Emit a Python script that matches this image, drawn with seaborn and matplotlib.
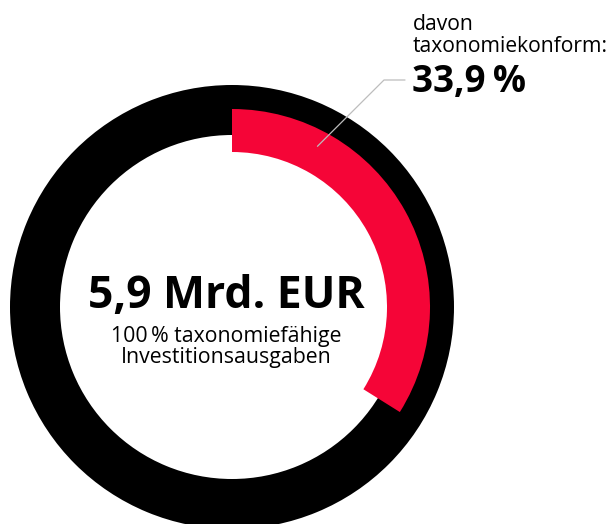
import numpy as np
import matplotlib
matplotlib.use("Agg")
import matplotlib.pyplot as plt
import seaborn as sns

# Data
total_label = "5,9 Mrd. EUR"
sub_label = ["100\u2009% taxonomiefähige", "Investitionsausgaben"]
share_label = ["davon", "taxonomiekonform:"]
conform_share = [33.9, 100 - 33.9]
share_text = "33,9\u2009%"

RED = "#F50537"

sns.set_theme(style="white")
plt.rcParams["font.family"] = ["Open Sans", "DejaVu Sans"]

W, H = 611, 524
fig = plt.figure(figsize=(W / 100, H / 100), dpi=100)
ax = fig.add_axes([0, 0, 1, 1])

# centre of the donut (y measured upwards)
cx, cy = 232, H - 307

# black full ring = 100 % taxonomy-eligible
ax.pie([100], radius=222, center=(cx, cy), colors=["black"],
       wedgeprops=dict(width=50, linewidth=0), startangle=90)

# red arc = taxonomy-aligned share
ax.pie(conform_share, radius=198, center=(cx, cy), colors=[RED, "none"],
       wedgeprops=dict(width=43, linewidth=0), startangle=90, counterclock=False)

ax.set_xlim(0, W)
ax.set_ylim(0, H)
ax.set_aspect("equal")
ax.axis("off")

# centre labels
ax.text(cx - 6, H - 308, total_label, ha="center", va="baseline",
        fontsize=32, fontweight="bold", color="black")
ax.text(cx - 6, H - 342, sub_label[0], ha="center", va="baseline",
        fontsize=15.3, color="black")
ax.text(cx - 6, H - 363, sub_label[1], ha="center", va="baseline",
        fontsize=15.3, color="black")

# leader line from the red arc to the label
ang = np.deg2rad(28)
r_mid = 182
x0, y0 = cx + r_mid * np.sin(ang), cy + r_mid * np.cos(ang)
ax.plot([x0, 384, 405], [y0, H - 80, H - 80], color="#bdbdbd", lw=0.9)

ax.text(413, H - 30, share_label[0], ha="left", va="baseline",
        fontsize=15.2, color="black")
ax.text(413, H - 52, share_label[1], ha="left", va="baseline",
        fontsize=15.2, color="black")
ax.text(412, H - 92, share_text, ha="left", va="baseline",
        fontsize=26.5, fontweight="bold", color="black")

fig.savefig("out.png", dpi=100, facecolor="white")
